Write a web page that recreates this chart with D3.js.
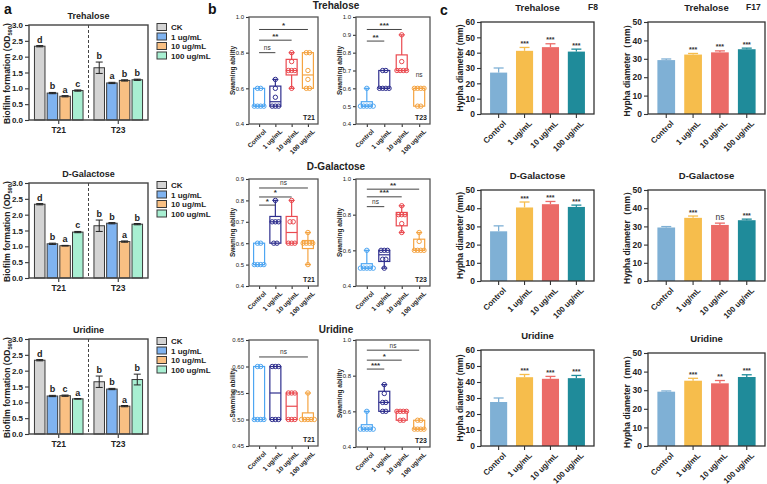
<!DOCTYPE html>
<html><head><meta charset="utf-8">
<script src="https://cdn.jsdelivr.net/npm/d3@7"></script>
<style>
body{margin:0;background:#fff}
svg{display:block;font-family:"Liberation Sans",Arial,sans-serif;font-weight:bold}
</style>
</head><body>
<svg id="chart" width="767" height="484"></svg>
<script>
// ---------------- DATA ----------------
const treatments = ["Control","1 ug/mL","10 ug/mL","100 ug/mL"];
const legendA = ["CK","1 ug/mL","10 ug/mL","100 ug/mL"];
const strainsA = ["T21","T23"];
const sugarTitles = ["Trehalose","D-Galactose","Uridine"];
const yTicksA = [0,0.5,1,1.5,2,2.5,3];

// panel a: biofilm formation (OD590), rows = strains [T21, T23], cols = treatments
const biofilmTrehalose = [[2.33,0.85,0.75,0.93],[1.65,1.17,1.25,1.27]];
const biofilmTrehaloseErr = [[0.02,0.02,0.02,0.02],[0.18,0.02,0.02,0.02]];
const biofilmTrehaloseLetters = [["d","b","a","c"],["b","a","b","b"]];
const biofilmGalactose = [[2.33,1.08,1.02,1.45],[1.65,1.73,1.15,1.70]];
const biofilmGalactoseErr = [[0.02,0.02,0.01,0.02],[0.18,0.02,0.02,0.02]];
const biofilmGalactoseLetters = [["d","b","a","c"],["b","b","a","b"]];
const biofilmUridine = [[2.33,1.20,1.21,1.11],[1.65,1.42,0.88,1.72]];
const biofilmUridineErr = [[0.02,0.02,0.02,0.01],[0.18,0.02,0.02,0.17]];
const biofilmUridineLetters = [["d","b","c","a"],["b","b","a","b"]];

// panel b: swimming ability, individual replicates per treatment
const swimTrehaloseT21 = [[0.5,0.5,0.5,0.5,0.6,0.6],[0.5,0.5,0.5,0.55,0.6,0.65],[0.6,0.7,0.7,0.7,0.75,0.8],[0.6,0.6,0.65,0.7,0.8,0.8]];
const swimTrehaloseT23 = [[0.5,0.5,0.5,0.5,0.5,0.6],[0.6,0.6,0.6,0.6,0.7,0.7],[0.7,0.7,0.7,0.7,0.75,0.9],[0.5,0.5,0.6,0.6,0.6,0.6]];
const swimGalactoseT21 = [[0.5,0.5,0.5,0.5,0.6,0.6],[0.6,0.6,0.7,0.7,0.7,0.8],[0.6,0.6,0.6,0.7,0.7,0.8],[0.5,0.6,0.6,0.6,0.6,0.65]];
const swimGalactoseT23 = [[0.5,0.5,0.5,0.5,0.5,0.6],[0.5,0.55,0.55,0.6,0.6,0.6],[0.7,0.75,0.8,0.8,0.8,0.85],[0.6,0.6,0.6,0.6,0.65,0.7]];
const swimUridineT21 = [[0.5,0.5,0.5,0.5,0.6,0.6],[0.5,0.5,0.5,0.6,0.6,0.6],[0.5,0.5,0.5,0.55,0.55,0.55],[0.5,0.5,0.5,0.5,0.5,0.55]];
const swimUridineT23 = [[0.5,0.5,0.5,0.5,0.5,0.6],[0.6,0.6,0.65,0.65,0.7,0.75],[0.55,0.55,0.6,0.6,0.6,0.6],[0.5,0.5,0.5,0.5,0.55,0.55]];
const swimTicks02 = [0.4,0.6,0.8,1.0];
const swimTicks01 = [0.4,0.5,0.6,0.7,0.8,0.9,1.0];
const swimTicksGalT21 = [0.4,0.5,0.6,0.7,0.8,0.9];
const swimTicksUriT21 = [0.45,0.50,0.55,0.60,0.65];
// significance: [label, compared treatment index, bracket level]
const sigTrehaloseT21 = [["ns",1,0.80],["**",2,0.87],["*",3,0.93]];
const sigTrehaloseT23 = [["**",1,0.865],["***",2,0.93]];
const sigGalactoseT21 = [["*",1,0.778],["*",2,0.816],["ns",3,0.858]];
const sigGalactoseT23 = [["ns",1,0.845],["***",2,0.90],["**",3,0.943]];
const sigUridineT21 = [["ns",3,0.618]];
const sigUridineT23 = [["***",1,0.837],["*",2,0.887],["ns",3,0.943]];

// panel c: hypha diameter (mm)
const hyphaTrehaloseF8 = [27.0,41.2,43.6,40.7];
const hyphaTrehaloseF8Err = [3.0,2.2,2.2,1.6];
const hyphaTrehaloseF8Sig = ["","***","***","***"];
const hyphaTrehaloseF17 = [29.3,32.3,33.5,35.2];
const hyphaTrehaloseF17Err = [0.6,0.6,0.8,0.6];
const hyphaTrehaloseF17Sig = ["","***","***","***"];
const hyphaGalactoseF8 = [27.3,40.4,42.2,40.7];
const hyphaGalactoseF8Err = [3.0,3.0,1.5,1.0];
const hyphaGalactoseF8Sig = ["","***","***","***"];
const hyphaGalactoseF17 = [29.4,34.7,30.8,33.4];
const hyphaGalactoseF17Err = [0.5,1.0,1.0,0.6];
const hyphaGalactoseF17Sig = ["","***","ns","***"];
const hyphaUridineF8 = [27.5,43.0,42.0,42.4];
const hyphaUridineF8Err = [2.5,1.7,1.5,1.7];
const hyphaUridineF8Sig = ["","***","***","***"];
const hyphaUridineF17 = [29.2,35.1,33.7,37.1];
const hyphaUridineF17Err = [0.4,1.3,1.5,1.2];
const hyphaUridineF17Sig = ["","***","**","***"];

// ---------------- STYLE ----------------
const colorsA = ["#d4d4d4","#7fb3f0","#f9c083","#a8efd2"];
const colorsB = ["#4ea6f2","#2f2f8e","#ea4a50","#f5a442"];
const colorsC = ["#7fb0d5","#f6bd4c","#eb6b67","#1f8b9a"];
const ink = "#333";

const svg = d3.select("#chart");

function styleAxis(sel, size){
  sel.attr("font-family", null).attr("font-size", size);
  sel.select(".domain").remove();
  sel.selectAll(".tick line").attr("stroke", ink).attr("stroke-width", 1.1);
  sel.selectAll(".tick text").attr("fill", "#222");
}

function quart(s, p){
  const n = s.length, pos = (n + 1) * p, lo = Math.floor(pos);
  if (lo < 1) return s[0];
  if (lo >= n) return s[n - 1];
  return s[lo - 1] + (pos - lo) * (s[lo] - s[lo - 1]);
}

// ---------------- PANEL A ----------------
function drawA(title, means, errs, letters, top){
  const x0 = 29, x1 = 148, bot = top + 95;
  const g = svg.append("g");
  const y = d3.scaleLinear().domain([0,3]).range([bot, top]);
  const xg = d3.scaleBand().domain(strainsA).range([x0, x1]);
  const xi = d3.scaleBand().domain(legendA).range([0, xg.bandwidth()]).paddingInner(0.17).paddingOuter(0.43);
  strainsA.forEach((s, si) => {
    legendA.forEach((t, ti) => {
      const m = means[si][ti], e = errs[si][ti];
      const bx = xg(s) + xi(t), bw = xi.bandwidth(), cx = bx + bw / 2;
      g.append("rect").attr("x", bx).attr("y", y(m)).attr("width", bw).attr("height", y(0) - y(m))
        .attr("fill", colorsA[ti]).attr("stroke", "#3a3a3a").attr("stroke-width", 1);
      g.append("line").attr("x1", cx).attr("x2", cx).attr("y1", y(m - e)).attr("y2", y(m + e)).attr("stroke", "#222").attr("stroke-width", 1);
      [m - e, m + e].forEach(v => g.append("line").attr("x1", cx - 3.5).attr("x2", cx + 3.5).attr("y1", y(v)).attr("y2", y(v)).attr("stroke", "#222").attr("stroke-width", 1));
      g.append("text").attr("x", cx).attr("y", y(m + e) - 3).attr("text-anchor", "middle").attr("font-size", 9).attr("fill", "#222").text(letters[si][ti]);
    });
  });
  const ya = g.append("g").attr("transform", `translate(${x0},0)`)
    .call(d3.axisLeft(y).tickValues(yTicksA).tickFormat(d3.format(".1f")).tickSize(4).tickPadding(2));
  styleAxis(ya, 8);
  const xa = g.append("g").attr("transform", `translate(0,${bot})`)
    .call(d3.axisBottom(xg).tickSize(4).tickPadding(3));
  styleAxis(xa, 8.5);
  g.append("rect").attr("x", x0).attr("y", top).attr("width", x1 - x0).attr("height", bot - top)
    .attr("fill", "none").attr("stroke", "#444").attr("stroke-width", 1.4);
  const xd = xg("T23");
  g.append("line").attr("x1", xd).attr("x2", xd).attr("y1", top).attr("y2", bot)
    .attr("stroke", "#444").attr("stroke-width", 1).attr("stroke-dasharray", "3,2");
  g.append("text").attr("x", (x0 + x1) / 2).attr("y", top - 6).attr("text-anchor", "middle").attr("font-size", 9).attr("fill", "#222").text(title);
  const yl = g.append("text").attr("transform", `translate(10,${(top + bot) / 2 + 1}) rotate(-90)`)
    .attr("text-anchor", "middle").attr("font-size", 8.5).attr("fill", "#222");
  yl.append("tspan").text("Biofilm formation (OD");
  yl.append("tspan").attr("font-size", 5.8).attr("dy", 2.3).text("590");
  yl.append("tspan").attr("dy", -2.3).text(")");
  legendA.forEach((t, i) => {
    const ly = top + 2 + i * 9.5;
    g.append("rect").attr("x", 157).attr("y", ly - 3.5).attr("width", 9.5).attr("height", 7)
      .attr("fill", colorsA[i]).attr("stroke", "#3a3a3a").attr("stroke-width", 1);
    g.append("text").attr("x", 171).attr("y", ly + 3).attr("font-size", 8).attr("fill", "#222").text(t);
  });
}

drawA(sugarTitles[0], biofilmTrehalose, biofilmTrehaloseErr, biofilmTrehaloseLetters, 25);
drawA(sugarTitles[1], biofilmGalactose, biofilmGalactoseErr, biofilmGalactoseLetters, 183);
drawA(sugarTitles[2], biofilmUridine, biofilmUridineErr, biofilmUridineLetters, 339);

// ---------------- PANEL B ----------------
function drawB(data, domain, ticks, fmt, sig, strain, x0, x1, top, bot, extraNs){
  const g = svg.append("g");
  const y = d3.scaleLinear().domain(domain).range([bot, top]);
  const x = d3.scalePoint().domain(treatments).range([x0, x1]).padding(0.62);
  const bw = 11;
  data.forEach((vals, i) => {
    const s = vals.slice().sort(d3.ascending);
    const q1 = quart(s, 0.25), med = quart(s, 0.5), q3 = quart(s, 0.75), mn = s[0], mx = s[s.length - 1];
    const cx = x(treatments[i]), col = colorsB[i];
    const ln = (xa, xb, ya, yb) => g.append("line").attr("x1", xa).attr("x2", xb).attr("y1", ya).attr("y2", yb).attr("stroke", col).attr("stroke-width", 1.2);
    if (mx > q3) { ln(cx, cx, y(mx), y(q3)); ln(cx - 3, cx + 3, y(mx), y(mx)); }
    if (mn < q1) { ln(cx, cx, y(q1), y(mn)); ln(cx - 3, cx + 3, y(mn), y(mn)); }
    g.append("rect").attr("x", cx - bw / 2).attr("y", y(q3)).attr("width", bw).attr("height", Math.max(0.5, y(q1) - y(q3)))
      .attr("fill", "none").attr("stroke", col).attr("stroke-width", 1.2);
    ln(cx - bw / 2, cx + bw / 2, y(med), y(med));
    const groups = d3.groups(s, v => v);
    groups.forEach(([v, arr]) => {
      arr.forEach((_, j) => {
        g.append("circle").attr("cx", cx + (j - (arr.length - 1) / 2) * 3.2).attr("cy", y(v)).attr("r", 2.2)
          .attr("fill", "none").attr("stroke", col).attr("stroke-width", 1);
      });
    });
  });
  sig.forEach(([lab, ti, lev]) => {
    const xa = x(treatments[0]), xb = x(treatments[ti]);
    g.append("line").attr("x1", xa).attr("x2", xb).attr("y1", y(lev)).attr("y2", y(lev)).attr("stroke", "#444").attr("stroke-width", 1);
    g.append("text").attr("x", (xa + xb) / 2).attr("y", y(lev) - (lab === "ns" ? 2.5 : 1.5)).attr("text-anchor", "middle")
      .attr("font-size", lab === "ns" ? 6.5 : 8).attr("font-weight", lab === "ns" ? "normal" : "bold").attr("fill", "#333").text(lab);
  });
  if (extraNs) {
    g.append("text").attr("x", x(treatments[3])).attr("y", y(extraNs)).attr("text-anchor", "middle")
      .attr("font-size", 6.5).attr("font-weight", "normal").attr("fill", "#333").text("ns");
  }
  const ya = g.append("g").attr("transform", `translate(${x0},0)`)
    .call(d3.axisLeft(y).tickValues(ticks).tickFormat(d3.format(fmt)).tickSize(3).tickPadding(2));
  styleAxis(ya, 6);
  ya.selectAll(".tick text").attr("font-weight", "normal");
  const xa = g.append("g").attr("transform", `translate(0,${bot})`)
    .call(d3.axisBottom(x).tickSize(3).tickPadding(2));
  styleAxis(xa, 6.5);
  xa.selectAll(".tick text").attr("text-anchor", "end").attr("dy", "0.3em")
    .attr("transform", "translate(2,3) rotate(-45)");
  g.append("rect").attr("x", x0).attr("y", top).attr("width", x1 - x0).attr("height", bot - top)
    .attr("fill", "none").attr("stroke", "#555").attr("stroke-width", 1.3);
  g.append("text").attr("x", x1 - 3).attr("y", bot - 4).attr("text-anchor", "end").attr("font-size", 7).attr("fill", "#222").text(strain);
  g.append("text").attr("transform", `translate(${x0 - 14},${(top + bot) / 2}) rotate(-90)`)
    .attr("text-anchor", "middle").attr("font-size", 6.5).attr("fill", "#222").text("Swaming ability");
}

const bL = [249, 318], bR = [356, 430];
drawB(swimTrehaloseT21, [0.4,1.0], swimTicks02, ".1f", sigTrehaloseT21, "T21", bL[0], bL[1], 17, 124);
drawB(swimTrehaloseT23, [0.4,1.0], swimTicks01, ".1f", sigTrehaloseT23, "T23", bR[0], bR[1], 17, 124, 0.665);
drawB(swimGalactoseT21, [0.4,0.9], swimTicksGalT21, ".1f", sigGalactoseT21, "T21", bL[0], bL[1], 179, 286);
drawB(swimGalactoseT23, [0.4,1.0], swimTicks02, ".1f", sigGalactoseT23, "T23", bR[0], bR[1], 179, 286);
drawB(swimUridineT21, [0.45,0.65], swimTicksUriT21, ".2f", sigUridineT21, "T21", bL[0], bL[1], 340, 446);
drawB(swimUridineT23, [0.4,1.0], swimTicks02, ".1f", sigUridineT23, "T23", bR[0], bR[1], 340, 447);
[["Trehalose", 9], ["D-Galactose", 170], ["Uridine", 333]].forEach(([t, yy]) =>
  svg.append("text").attr("x", 336).attr("y", yy).attr("text-anchor", "middle").attr("font-size", 10).attr("fill", "#222").text(t));

// ---------------- PANEL C ----------------
function drawC(means, errs, sigs, ymax, x0, x1, top, bot, title, sub, subX, ylab){
  const g = svg.append("g");
  const y = d3.scaleLinear().domain([0, ymax]).range([bot, top]);
  const x = d3.scaleBand().domain(treatments).range([x0, x1]).paddingInner(0.34).paddingOuter(0.35);
  means.forEach((m, i) => {
    const bx = x(treatments[i]), bw = x.bandwidth(), cx = bx + bw / 2, e = errs[i];
    g.append("rect").attr("x", bx).attr("y", y(m)).attr("width", bw).attr("height", y(0) - y(m)).attr("fill", colorsC[i]);
    g.append("line").attr("x1", cx).attr("x2", cx).attr("y1", y(m)).attr("y2", y(m + e)).attr("stroke", colorsC[i]).attr("stroke-width", 1.3);
    g.append("line").attr("x1", cx - 5).attr("x2", cx + 5).attr("y1", y(m + e)).attr("y2", y(m + e)).attr("stroke", colorsC[i]).attr("stroke-width", 1.3);
    if (sigs[i]) {
      const ns = sigs[i] === "ns";
      g.append("text").attr("x", cx).attr("y", y(m + e) - (ns ? 3 : 1.5)).attr("text-anchor", "middle")
        .attr("font-size", ns ? 8.5 : 7).attr("font-weight", ns ? "normal" : "bold").attr("fill", "#333").text(sigs[i]);
    }
  });
  const ya = g.append("g").attr("transform", `translate(${x0},0)`)
    .call(d3.axisLeft(y).ticks(ymax / 10).tickSize(4).tickPadding(2));
  styleAxis(ya, 8.5);
  const xa = g.append("g").attr("transform", `translate(0,${bot})`)
    .call(d3.axisBottom(x).tickSize(4).tickPadding(2));
  styleAxis(xa, 8);
  xa.selectAll(".tick text").attr("text-anchor", "end").attr("dy", "0.3em")
    .attr("transform", "translate(2,4) rotate(-45)");
  g.append("rect").attr("x", x0).attr("y", top).attr("width", x1 - x0).attr("height", bot - top)
    .attr("fill", "none").attr("stroke", "#333").attr("stroke-width", 1.3);
  g.append("text").attr("x", (x0 + x1) / 2).attr("y", top - 11).attr("text-anchor", "middle").attr("font-size", 9.5).attr("fill", "#222").text(title);
  if (sub) g.append("text").attr("x", subX).attr("y", top - 12).attr("font-size", 8.5).attr("fill", "#222").text(sub);
  g.append("text").attr("transform", `translate(${x0 - 18},${(top + bot) / 2}) rotate(-90)`)
    .attr("text-anchor", "middle").attr("font-size", 8.5).attr("fill", "#222").text(ylab);
}

const cL = [481, 594], cR = [648, 765];
const ylabL = "Hypha diameter (mm)", ylabR = "Hypha diameter\uFF08mm\uFF09";
drawC(hyphaTrehaloseF8, hyphaTrehaloseF8Err, hyphaTrehaloseF8Sig, 60, cL[0], cL[1], 22, 114, "Trehalose", "F8", 588, ylabL);
drawC(hyphaTrehaloseF17, hyphaTrehaloseF17Err, hyphaTrehaloseF17Sig, 50, cR[0], cR[1], 22, 114, "Trehalose", "F17", 746, ylabR);
drawC(hyphaGalactoseF8, hyphaGalactoseF8Err, hyphaGalactoseF8Sig, 50, cL[0], cL[1], 190, 281, "D-Galactose", "", 0, ylabL);
drawC(hyphaGalactoseF17, hyphaGalactoseF17Err, hyphaGalactoseF17Sig, 50, cR[0], cR[1], 190, 281, "D-Galactose", "", 0, ylabR);
drawC(hyphaUridineF8, hyphaUridineF8Err, hyphaUridineF8Sig, 60, cL[0], cL[1], 350, 446, "Uridine", "", 0, ylabL);
drawC(hyphaUridineF17, hyphaUridineF17Err, hyphaUridineF17Sig, 50, cR[0], cR[1], 353, 446, "Uridine", "", 0, ylabR);

// panel letters
[["a", 4, 14], ["b", 208, 14], ["c", 440, 15]].forEach(([t, xx, yy]) =>
  svg.append("text").attr("x", xx).attr("y", yy).attr("font-size", 14).attr("fill", "#111").text(t));
</script>
</body></html>
